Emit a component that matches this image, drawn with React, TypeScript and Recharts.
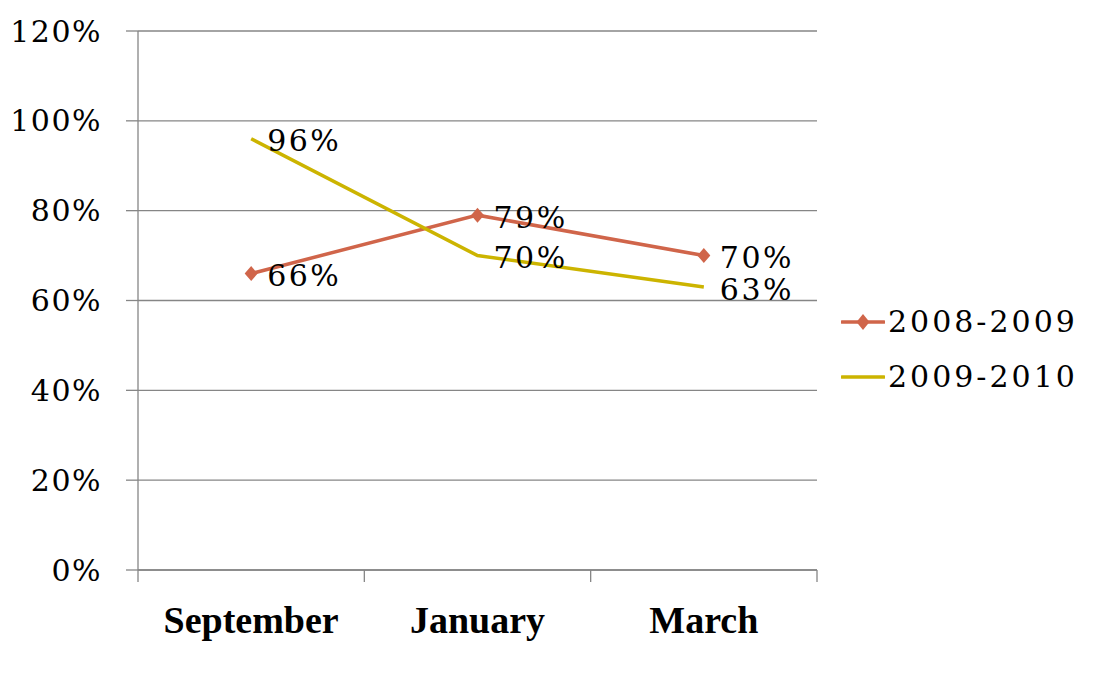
import React from 'react';
import { LineChart, Line, XAxis, YAxis, CartesianGrid, LabelList } from 'recharts';

const categories = ['September', 'January', 'March'];
const series2008 = [0.66, 0.79, 0.7];
const series2009 = [0.96, 0.7, 0.63];
const yTicks = [0, 0.2, 0.4, 0.6, 0.8, 1.0, 1.2];
const seriesNames = ['2008-2009', '2009-2010'];

const data = categories.map((c, i) => ({ month: c, s1: series2008[i], s2: series2009[i] }));

const W = 1100;
const H = 696;
const MARGIN = { top: 31, right: 283, bottom: 46, left: 38 };
const YAXIS_W = 100;
const XAXIS_H = 80;
const PLOT_W = W - MARGIN.left - MARGIN.right - YAXIS_W;
const HALF_BAND = PLOT_W / categories.length / 2;

const NUM_FONT = '"DejaVu Serif", serif';
const CAT_FONT = '"Liberation Serif", serif';
const GRAY = '#868686';
const C1 = '#D0654A';
const C2 = '#CCB400';

const pct = (v: number) => `${Math.round(v * 100)}%`;

const XTick = (props: any) => {
  const { x, y, payload, index } = props;
  const last = index === categories.length - 1;
  return (
    <g>
      <line x1={x - HALF_BAND} x2={x - HALF_BAND} y1={y} y2={y + 12} stroke={GRAY} strokeWidth={1.3} />
      {last && (
        <line x1={x + HALF_BAND} x2={x + HALF_BAND} y1={y} y2={y + 12} stroke={GRAY} strokeWidth={1.3} />
      )}
      <text
        x={x}
        y={y + 63}
        textAnchor="middle"
        fontFamily={CAT_FONT}
        fontWeight="bold"
        fontSize={38}
        fill="#000"
      >
        {payload.value}
      </text>
    </g>
  );
};

const Diamond = (props: any) => {
  const { cx, cy, fill } = props;
  if (cx == null || cy == null) return null;
  const w = 6.5;
  const h = 7.5;
  return <polygon points={`${cx},${cy - h} ${cx + w},${cy} ${cx},${cy + h} ${cx - w},${cy}`} fill={fill} />;
};

const LegendIcon = ({ color, marker }: { color: string; marker: boolean }) => (
  <svg width={44} height={20} style={{ display: 'block' }}>
    <line x1={1} x2={43} y1={10} y2={10} stroke={color} strokeWidth={3.5} strokeLinecap="round" />
    {marker && <polygon points="22,2 28.5,10 22,18 15.5,10" fill={color} />}
  </svg>
);

const labelStyle = { fontFamily: NUM_FONT, fontSize: 30, fill: '#000', letterSpacing: 2.5 };

export default function App() {
  const colors = [C1, C2];
  const legendY = [322, 377];
  return (
    <div style={{ position: 'absolute', left: 0, top: 0, width: W, height: H, background: '#fff' }}>
      <LineChart width={W} height={H} data={data} margin={MARGIN}>
        <CartesianGrid vertical={false} stroke={GRAY} strokeWidth={1.3} />
        <XAxis
          dataKey="month"
          height={XAXIS_H}
          padding={{ left: HALF_BAND, right: HALF_BAND }}
          axisLine={{ stroke: GRAY, strokeWidth: 1.3 }}
          tickLine={false}
          tickSize={0}
          tickMargin={0}
          tick={<XTick />}
          interval={0}
        />
        <YAxis
          width={YAXIS_W}
          domain={[0, 1.2]}
          ticks={yTicks}
          tickFormatter={pct}
          axisLine={{ stroke: GRAY, strokeWidth: 1.3 }}
          tickLine={{ stroke: GRAY, strokeWidth: 1.3 }}
          tickSize={12}
          tickMargin={24}
          tick={{ fontFamily: NUM_FONT, fontSize: 30, fill: '#000', letterSpacing: 1.5 }}
        />
        <Line
          dataKey="s1"
          name={seriesNames[0]}
          stroke={C1}
          strokeWidth={3.5}
          dot={<Diamond fill={C1} />}
          activeDot={false}
          isAnimationActive={false}
        >
          <LabelList
            dataKey="s1"
            position="right"
            offset={16}
            formatter={pct}
            dy={2}
            style={labelStyle}
          />
        </Line>
        <Line
          dataKey="s2"
          name={seriesNames[1]}
          stroke={C2}
          strokeWidth={3.5}
          dot={false}
          activeDot={false}
          isAnimationActive={false}
        >
          <LabelList
            dataKey="s2"
            position="right"
            offset={16}
            formatter={pct}
            dy={2}
            style={labelStyle}
          />
        </Line>
      </LineChart>
      {seriesNames.map((name, i) => (
        <div
          key={name}
          style={{
            position: 'absolute',
            left: 841,
            top: legendY[i] - 20,
            height: 40,
            display: 'flex',
            alignItems: 'center',
            gap: 3,
          }}
        >
          <LegendIcon color={colors[i]} marker={i === 0} />
          <span style={{ fontFamily: NUM_FONT, fontSize: 30, letterSpacing: 3, color: '#000', lineHeight: '40px' }}>
            {name}
          </span>
        </div>
      ))}
    </div>
  );
}
